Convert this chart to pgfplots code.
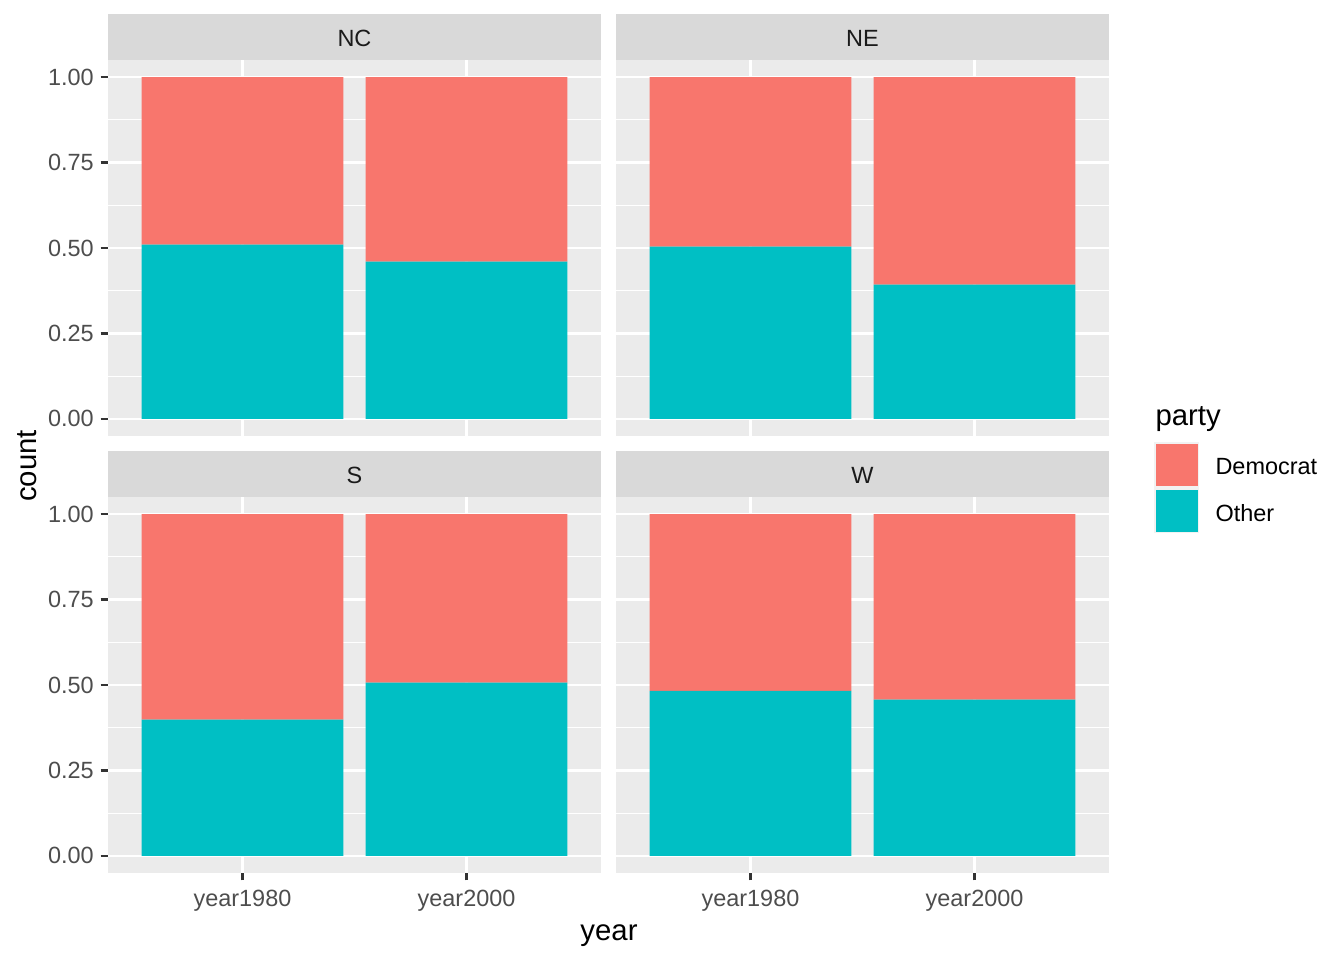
\documentclass[border=0pt]{standalone}
\usepackage{fontspec}
\setmainfont{Liberation Sans}
\usepackage{pgfplots}
\pgfplotsset{compat=1.18}
\definecolor{dem}{HTML}{F8766D}
\definecolor{oth}{HTML}{00BFC4}
\definecolor{panelbg}{HTML}{EBEBEB}
\definecolor{stripbg}{HTML}{D9D9D9}
\definecolor{ticklab}{HTML}{4D4D4D}
\definecolor{tickcol}{HTML}{333333}
\definecolor{striptext}{HTML}{1A1A1A}
\definecolor{keybg}{HTML}{F2F2F2}
\pgfplotsset{
  facet/.style={
    width=184.875pt, height=141pt, scale only axis,
    anchor=north west,
    xmin=-0.6, xmax=1.6, ymin=-0.05, ymax=1.05,
    axis background/.style={fill=panelbg},
    axis line style={draw=none},
    xtick={0,1}, xticklabels={year1980,year2000},
    ytick={0,0.25,0.5,0.75,1},
    yticklabels={0.00,0.25,0.50,0.75,1.00},
    minor ytick={0.125,0.375,0.625,0.875},
    grid=both,
    major grid style={white, line width=0.8pt},
    minor grid style={white, line width=0.4pt},
    tick align=outside,
    tick pos=lower,
    major tick length=2.75pt,
    minor tick length=0pt,
    tick style={tickcol, line width=0.8pt},
    ticklabel style={font=\fontsize{8.8}{10}\selectfont, text=ticklab},
    yticklabel style={inner sep=0pt, xshift=-2.4pt},
    xticklabel style={inner sep=0pt, yshift=-3.3pt},
    ybar stacked, bar width=0.9,
  },
  topfacet/.style={xticklabels={}, xtick style={draw=none}},
  rightfacet/.style={yticklabels={}, ytick style={draw=none}},
}
\newcommand{\strip}[2]{%
  \fill[stripbg] (#1.north west) rectangle ([yshift=17.25pt]#1.north east);
  \node[font=\fontsize{8.8}{10}\selectfont, text=striptext] at ([yshift=8.0pt]#1.north) {#2};
}
\begin{document}
\begin{tikzpicture}
\path[use as bounding box] (0,0) rectangle (504pt,360pt);

\begin{axis}[facet, topfacet, name=NC, at={(40.5pt,337.5pt)}]
\addplot[fill=oth, draw=none] coordinates {(0,0.510) (1,0.460)};
\addplot[fill=dem, draw=none] coordinates {(0,0.490) (1,0.540)};
\end{axis}
\strip{NC}{NC}

\begin{axis}[facet, topfacet, rightfacet, name=NE, at={(231pt,337.5pt)}]
\addplot[fill=oth, draw=none] coordinates {(0,0.504) (1,0.393)};
\addplot[fill=dem, draw=none] coordinates {(0,0.496) (1,0.607)};
\end{axis}
\strip{NE}{NE}

\begin{axis}[facet, name=S, at={(40.5pt,173.625pt)}]
\addplot[fill=oth, draw=none] coordinates {(0,0.399) (1,0.507)};
\addplot[fill=dem, draw=none] coordinates {(0,0.601) (1,0.493)};
\end{axis}
\strip{S}{S}

\begin{axis}[facet, rightfacet, name=W, at={(231pt,173.625pt)}]
\addplot[fill=oth, draw=none] coordinates {(0,0.483) (1,0.457)};
\addplot[fill=dem, draw=none] coordinates {(0,0.517) (1,0.543)};
\end{axis}
\strip{W}{W}

\begin{scope}[x=0.375pt, y=-0.375pt, yshift=360pt]
  \node[rotate=90, font=\fontsize{11}{13}\selectfont, inner sep=0pt] at (27,466) {count};
  \node[font=\fontsize{11}{13}\selectfont, inner sep=0pt] at (609,936) {year};
  % legend
  \node[anchor=base west, font=\fontsize{11}{13}\selectfont, inner sep=0pt] at (1155,425) {party};
  \fill[keybg] (1154,442) rectangle (1199,533);
  \fill[dem] (1155.5,444) rectangle (1197.5,486);
  \fill[oth] (1155.5,490) rectangle (1197.5,531.5);
  \node[anchor=west, font=\fontsize{8.8}{10}\selectfont, inner sep=0pt] at (1215,467) {Democrat};
  \node[anchor=west, font=\fontsize{8.8}{10}\selectfont, inner sep=0pt] at (1215,513) {Other};
\end{scope}
\end{tikzpicture}
\end{document}
